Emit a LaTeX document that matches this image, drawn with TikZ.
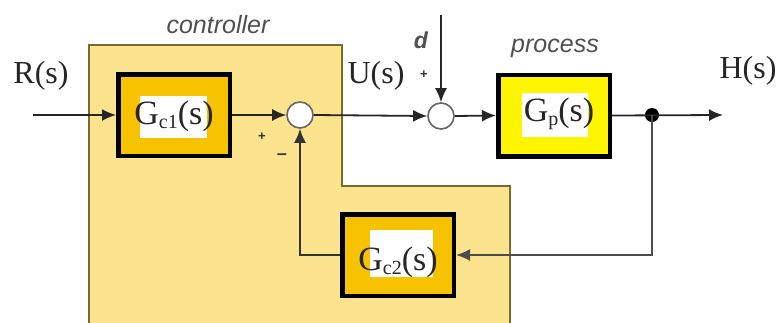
\documentclass[tikz,border=0pt]{standalone}
\usepackage{fontspec}
\setmainfont{Liberation Serif}
\newfontfamily\lsans{Liberation Sans}
\usetikzlibrary{arrows.meta}
\definecolor{regionfill}{HTML}{FCE38E}
\definecolor{regionline}{HTML}{7A6A30}
\definecolor{gcfill}{HTML}{F7C300}
\definecolor{gpfill}{HTML}{FFF500}
\definecolor{lbl}{HTML}{505050}
\tikzset{
  blockbox/.style={draw=black, line width=4.5pt, minimum width=111.5pt, minimum height=81.5pt, inner sep=0pt},
  sumnode/.style={circle, draw=black!60, fill=white, line width=1.6pt, minimum size=26pt, inner sep=0pt},
  tapdot/.style={circle, fill=black, minimum size=14pt, inner sep=0pt},
  sig/.style={draw=black!85, line width=1.8pt, -{Latex[length=14pt,width=12pt]}},
  serifl/.style={font=\fontsize{32}{36}\selectfont, text=black!85},
  sansl/.style={font=\lsans\itshape\fontsize{25}{28}\selectfont, text=lbl},
  blk/.style={font=\fontsize{34}{38}\selectfont, text=black!85, anchor=base},
  sgn/.style={font=\lsans\bfseries\fontsize{13}{14}\selectfont, text=black!80}
}
\newcommand{\blocktext}[1]{G\raisebox{-0.12em}{\fontsize{20}{21}\selectfont #1}(s)}
\begin{document}
\begin{tikzpicture}[x=1pt,y=-1pt]
\useasboundingbox (0,0) rectangle (780,322);
\clip (0,0) rectangle (780,322);
\fill[white] (0,0) rectangle (780,322);
% controller region
\fill[regionfill] (89,45) -- (342,45) -- (342,186) -- (510,186) -- (510,330) -- (89,330) -- cycle;
\draw[regionline, line width=1.4pt] (89,330) -- (89,45) -- (342,45) -- (342,186) -- (510,186) -- (510,330);
% blocks
\node[blockbox, fill=gcfill] (gc1) at (174,115) {};
\node[blockbox, fill=gpfill] (gp) at (554,115.5) {};
\node[blockbox, fill=gcfill] (gc2) at (398,255) {};
% white patches behind labels
\fill[white] (140,96) rectangle (207,138);
\fill[white] (522,93) rectangle (588,137);
\fill[white] (370,230) rectangle (433,277);
\node[blk] (tgc1) at (174,124) {\blocktext{c1}};
\node[blk] (tgp) at (559,121) {\blocktext{p}};
\node[blk] (tgc2) at (398,270) {\blocktext{c2}};
% junctions
\node[sumnode] (s1) at (300,115) {};
\node[sumnode] (s2) at (441,116) {};
\node[tapdot] (tap) at (652,115) {};
\coordinate (rin) at (33,115);
\coordinate (dtop) at (441,15);
\coordinate (hout) at (723,115);
% connectors
\draw[sig] (rin) -- (gc1.west);
\draw[sig] (gc1.east) -- (s1.west);
\draw[sig] (s1.east) -- (s2.west);
\draw[sig] (dtop) -- (s2.north);
\draw[sig] (s2.east) -- (gp.west);
\draw[sig] (gp.east) -- (hout);
\draw[sig, draw=black!70] (tap.center) |- (gc2.east);
\draw[sig, draw=black!80] (gc2.west) -| (s1.south);
% labels
\node[serifl] (lr) at (41,76) {R(s)};
\node[serifl] (lu) at (376,76) {U(s)};
\node[serifl] (lh) at (748,71) {H(s)};
\node[sansl] (lc) at (218,25) {controller};
\node[sansl] (lp) at (555,48) {process};
\node[font=\lsans\bfseries\itshape\fontsize{23}{26}\selectfont, text=lbl] (ld) at (421,40) {d};
\node[sgn] (p1) at (424,75) {+};
\node[sgn] (p2) at (262,137) {+};
\node[font=\lsans\bfseries\fontsize{18}{18}\selectfont, text=black!80] (m1) at (282,157) {\textendash};
\end{tikzpicture}
\end{document}
